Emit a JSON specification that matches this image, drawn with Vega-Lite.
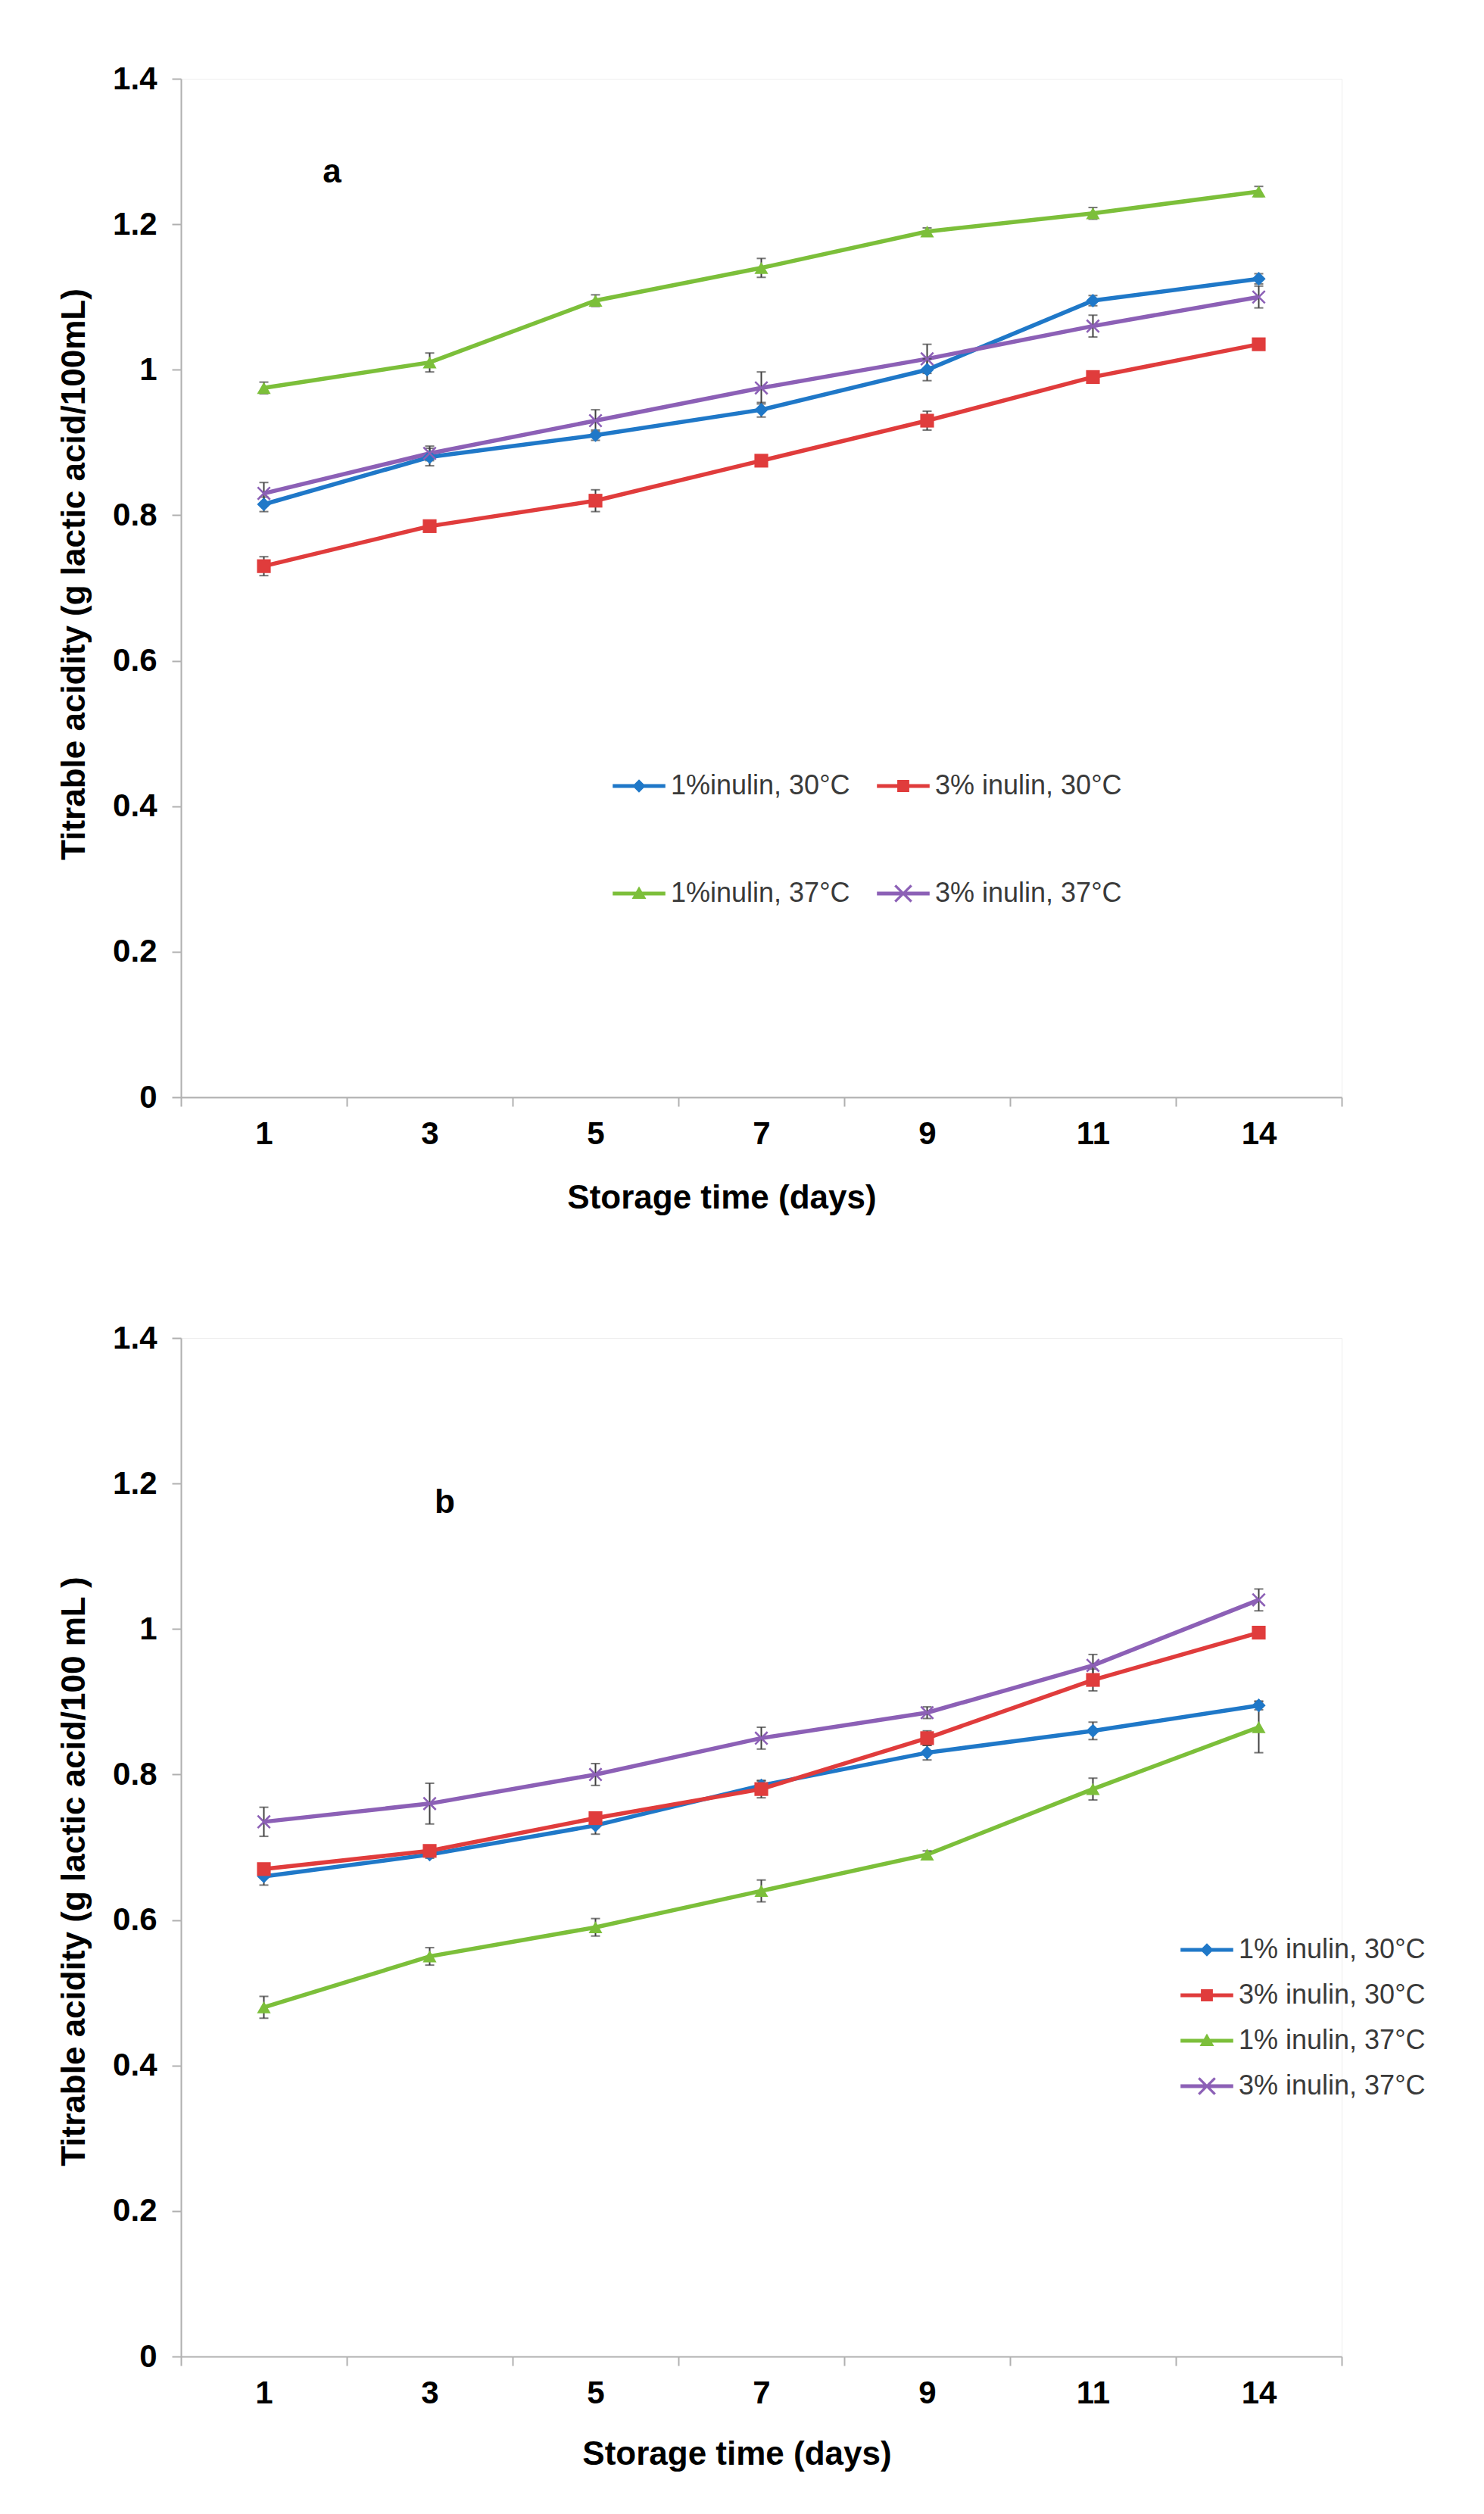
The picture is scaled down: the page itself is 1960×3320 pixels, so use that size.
{
  "$schema": "https://vega.github.io/schema/vega-lite/v6.json",
  "background": "white",
  "padding": {"left": 76, "top": 82, "right": 5, "bottom": 5},
  "autosize": {"type": "pad"},
  "spacing": 140,
  "config": {
    "font": "Liberation Sans",
    "view": {"stroke": "#eeeeee", "strokeWidth": 1},
    "axis": {
      "grid": false,
      "domainColor": "#b0b0b0", "domainWidth": 2,
      "tickColor": "#b0b0b0", "tickWidth": 2, "tickSize": 12,
      "labelFont": "Liberation Sans", "labelFontWeight": "bold", "labelFontSize": 42, "labelColor": "#000000",
      "titleFont": "Liberation Sans", "titleFontWeight": "bold", "titleFontSize": 44, "titleColor": "#000000"
    },
    "legend": {
      "labelFont": "Liberation Sans", "labelFontSize": 36, "labelColor": "#3a3a3a", "labelLimit": 0,
      "symbolSize": 1000, "labelOffset": 24, "symbolOpacity": 1, "symbolStrokeWidth": 0
    }
  },
  "resolve": {"scale": {"color": "independent", "shape": "independent"}},
  "datasets": {
    "d": [
      {"p":"a","n":"1%inulin, 30°C","d":"1","v":0.815,"lo":0.805,"hi":0.825},
      {"p":"a","n":"1%inulin, 30°C","d":"3","v":0.88,"lo":0.868,"hi":0.892},
      {"p":"a","n":"1%inulin, 30°C","d":"5","v":0.91,"lo":0.903,"hi":0.917},
      {"p":"a","n":"1%inulin, 30°C","d":"7","v":0.945,"lo":0.935,"hi":0.955},
      {"p":"a","n":"1%inulin, 30°C","d":"9","v":1.0,"lo":0.985,"hi":1.015},
      {"p":"a","n":"1%inulin, 30°C","d":"11","v":1.095,"lo":1.088,"hi":1.102},
      {"p":"a","n":"1%inulin, 30°C","d":"14","v":1.125,"lo":1.118,"hi":1.132},
      {"p":"a","n":"3% inulin, 30°C","d":"1","v":0.73,"lo":0.717,"hi":0.743},
      {"p":"a","n":"3% inulin, 30°C","d":"3","v":0.785,"lo":0.779,"hi":0.791},
      {"p":"a","n":"3% inulin, 30°C","d":"5","v":0.82,"lo":0.805,"hi":0.835},
      {"p":"a","n":"3% inulin, 30°C","d":"7","v":0.875,"lo":0.869,"hi":0.881},
      {"p":"a","n":"3% inulin, 30°C","d":"9","v":0.93,"lo":0.917,"hi":0.943},
      {"p":"a","n":"3% inulin, 30°C","d":"11","v":0.99,"lo":0.984,"hi":0.996},
      {"p":"a","n":"3% inulin, 30°C","d":"14","v":1.035,"lo":1.029,"hi":1.041},
      {"p":"a","n":"1%inulin, 37°C","d":"1","v":0.975,"lo":0.967,"hi":0.983},
      {"p":"a","n":"1%inulin, 37°C","d":"3","v":1.01,"lo":0.997,"hi":1.023},
      {"p":"a","n":"1%inulin, 37°C","d":"5","v":1.095,"lo":1.087,"hi":1.103},
      {"p":"a","n":"1%inulin, 37°C","d":"7","v":1.14,"lo":1.127,"hi":1.153},
      {"p":"a","n":"1%inulin, 37°C","d":"9","v":1.19,"lo":1.185,"hi":1.195},
      {"p":"a","n":"1%inulin, 37°C","d":"11","v":1.215,"lo":1.207,"hi":1.223},
      {"p":"a","n":"1%inulin, 37°C","d":"14","v":1.245,"lo":1.238,"hi":1.252},
      {"p":"a","n":"3% inulin, 37°C","d":"1","v":0.83,"lo":0.815,"hi":0.845},
      {"p":"a","n":"3% inulin, 37°C","d":"3","v":0.885,"lo":0.875,"hi":0.895},
      {"p":"a","n":"3% inulin, 37°C","d":"5","v":0.93,"lo":0.915,"hi":0.945},
      {"p":"a","n":"3% inulin, 37°C","d":"7","v":0.975,"lo":0.953,"hi":0.997},
      {"p":"a","n":"3% inulin, 37°C","d":"9","v":1.015,"lo":0.995,"hi":1.035},
      {"p":"a","n":"3% inulin, 37°C","d":"11","v":1.06,"lo":1.045,"hi":1.075},
      {"p":"a","n":"3% inulin, 37°C","d":"14","v":1.10,"lo":1.085,"hi":1.115},
      {"p":"b","n":"1% inulin, 30°C","d":"1","v":0.66,"lo":0.648,"hi":0.672},
      {"p":"b","n":"1% inulin, 30°C","d":"3","v":0.69,"lo":0.685,"hi":0.695},
      {"p":"b","n":"1% inulin, 30°C","d":"5","v":0.73,"lo":0.718,"hi":0.742},
      {"p":"b","n":"1% inulin, 30°C","d":"7","v":0.785,"lo":0.779,"hi":0.791},
      {"p":"b","n":"1% inulin, 30°C","d":"9","v":0.83,"lo":0.82,"hi":0.84},
      {"p":"b","n":"1% inulin, 30°C","d":"11","v":0.86,"lo":0.848,"hi":0.872},
      {"p":"b","n":"1% inulin, 30°C","d":"14","v":0.895,"lo":0.889,"hi":0.901},
      {"p":"b","n":"3% inulin, 30°C","d":"1","v":0.67,"lo":0.664,"hi":0.676},
      {"p":"b","n":"3% inulin, 30°C","d":"3","v":0.695,"lo":0.689,"hi":0.701},
      {"p":"b","n":"3% inulin, 30°C","d":"5","v":0.74,"lo":0.734,"hi":0.746},
      {"p":"b","n":"3% inulin, 30°C","d":"7","v":0.78,"lo":0.768,"hi":0.792},
      {"p":"b","n":"3% inulin, 30°C","d":"9","v":0.85,"lo":0.84,"hi":0.86},
      {"p":"b","n":"3% inulin, 30°C","d":"11","v":0.93,"lo":0.915,"hi":0.945},
      {"p":"b","n":"3% inulin, 30°C","d":"14","v":0.995,"lo":0.989,"hi":1.001},
      {"p":"b","n":"1% inulin, 37°C","d":"1","v":0.48,"lo":0.465,"hi":0.495},
      {"p":"b","n":"1% inulin, 37°C","d":"3","v":0.55,"lo":0.538,"hi":0.562},
      {"p":"b","n":"1% inulin, 37°C","d":"5","v":0.59,"lo":0.578,"hi":0.602},
      {"p":"b","n":"1% inulin, 37°C","d":"7","v":0.64,"lo":0.625,"hi":0.655},
      {"p":"b","n":"1% inulin, 37°C","d":"9","v":0.69,"lo":0.685,"hi":0.695},
      {"p":"b","n":"1% inulin, 37°C","d":"11","v":0.78,"lo":0.765,"hi":0.795},
      {"p":"b","n":"1% inulin, 37°C","d":"14","v":0.865,"lo":0.83,"hi":0.9},
      {"p":"b","n":"3% inulin, 37°C","d":"1","v":0.735,"lo":0.715,"hi":0.755},
      {"p":"b","n":"3% inulin, 37°C","d":"3","v":0.76,"lo":0.732,"hi":0.788},
      {"p":"b","n":"3% inulin, 37°C","d":"5","v":0.8,"lo":0.785,"hi":0.815},
      {"p":"b","n":"3% inulin, 37°C","d":"7","v":0.85,"lo":0.835,"hi":0.865},
      {"p":"b","n":"3% inulin, 37°C","d":"9","v":0.885,"lo":0.877,"hi":0.893},
      {"p":"b","n":"3% inulin, 37°C","d":"11","v":0.95,"lo":0.935,"hi":0.965},
      {"p":"b","n":"3% inulin, 37°C","d":"14","v":1.04,"lo":1.025,"hi":1.055}
    ]
  },
  "vconcat": [
    {
      "width": 1533, "height": 1345,
      "data": {"name": "d"},
      "transform": [{"filter": "datum.p == 'a'"}],
      "resolve": {"scale": {"color": "independent", "shape": "independent"}},
      "layer": [
        {
          "mark": {"type": "line", "strokeWidth": 5.5},
          "encoding": {
            "x": {"field": "d", "type": "ordinal", "title": "Storage time (days)", "bandPosition": 0.5, "scale": {"type": "band", "domain": ["1","3","5","7","9","11","14"], "paddingInner": 0, "paddingOuter": 0}, "axis": {"labelAngle": 0, "tickBand": "extent", "labelPadding": 16, "titlePadding": 42, "titleX": 714, "titleAlign": "center"}},
            "y": {"field": "v", "type": "quantitative", "title": "Titrable acidity (g lactic acid/100mL)", "scale": {"domain": [0, 1.4], "nice": false}, "axis": {"values": [0, 0.2, 0.4, 0.6, 0.8, 1, 1.2, 1.4], "format": "~g", "labelPadding": 20, "titlePadding": 28, "titleY": 654}},
            "color": {"field": "n", "type": "nominal", "scale": {"domain": ["1%inulin, 30°C","3% inulin, 30°C","1%inulin, 37°C","3% inulin, 37°C"], "range": ["#1f78c8","#e03c3c","#7cbf3a","#8c60b6"]}, "legend": null}
          }
        },
        {
          "mark": {"type": "rule", "color": "#404040", "strokeWidth": 2},
          "encoding": {
            "x": {"field": "d", "type": "ordinal", "title": "Storage time (days)", "bandPosition": 0.5},
            "y": {"field": "lo", "type": "quantitative", "title": "Titrable acidity (g lactic acid/100mL)"},
            "y2": {"field": "hi"}
          }
        },
        {
          "mark": {"type": "tick", "color": "#404040", "thickness": 2, "size": 12},
          "encoding": {
            "x": {"field": "d", "type": "ordinal", "title": "Storage time (days)", "bandPosition": 0.5},
            "y": {"field": "lo", "type": "quantitative", "title": "Titrable acidity (g lactic acid/100mL)"}
          }
        },
        {
          "mark": {"type": "tick", "color": "#404040", "thickness": 2, "size": 12},
          "encoding": {
            "x": {"field": "d", "type": "ordinal", "title": "Storage time (days)", "bandPosition": 0.5},
            "y": {"field": "hi", "type": "quantitative", "title": "Titrable acidity (g lactic acid/100mL)"}
          }
        },
        {
          "mark": {"type": "point", "filled": true, "opacity": 1, "size": 330},
          "encoding": {
            "x": {"field": "d", "type": "ordinal", "title": "Storage time (days)", "bandPosition": 0.5},
            "y": {"field": "v", "type": "quantitative", "title": "Titrable acidity (g lactic acid/100mL)"},
            "color": {"field": "n", "type": "nominal", "scale": {"domain": ["1%inulin, 30°C","3% inulin, 30°C","1%inulin, 37°C","3% inulin, 37°C"], "range": ["#1f78c8","#e03c3c","#7cbf3a","#8c60b6"]}, "legend": null},
            "shape": {"field": "n", "type": "nominal", "scale": {"domain": ["1%inulin, 30°C","3% inulin, 30°C","1%inulin, 37°C","3% inulin, 37°C"], "range": ["diamond","square","triangle-up","M-1,-0.8L-0.8,-1L0,-0.2L0.8,-1L1,-0.8L0.2,0L1,0.8L0.8,1L0,0.2L-0.8,1L-1,0.8L-0.2,0Z"]}, "legend": null}
          }
        },
        {
          "transform": [{"filter": "datum.d == '1'"}],
          "mark": {"type": "point", "filled": true, "opacity": 0},
          "encoding": {
            "x": {"field": "d", "type": "ordinal", "title": "Storage time (days)", "bandPosition": 0.5},
            "y": {"field": "v", "type": "quantitative", "title": "Titrable acidity (g lactic acid/100mL)"},
            "color": {"field": "n", "type": "nominal", "scale": {"domain": ["1%inulin, 30°C","3% inulin, 30°C","1%inulin, 37°C","3% inulin, 37°C"], "range": ["#1f78c8","#e03c3c","#7cbf3a","#8c60b6"]},
              "legend": {"title": null, "orient": "none", "legendX": 587, "legendY": 916, "columns": 2, "direction": "horizontal", "columnPadding": 35, "rowPadding": 106, "symbolOpacity": 1}},
            "shape": {"field": "n", "type": "nominal", "scale": {"domain": ["1%inulin, 30°C","3% inulin, 30°C","1%inulin, 37°C","3% inulin, 37°C"], "range": [
              "M-2.2,-0.16L2.2,-0.16L2.2,0.16L-2.2,0.16Z M0,-0.55L0.55,0L0,0.55L-0.55,0Z",
              "M-2.2,-0.16L2.2,-0.16L2.2,0.16L-2.2,0.16Z M-0.5,-0.5L0.5,-0.5L0.5,0.5L-0.5,0.5Z",
              "M-2.2,-0.16L2.2,-0.16L2.2,0.16L-2.2,0.16Z M0,-0.6L0.6,0.45L-0.6,0.45Z",
              "M-2.2,-0.16L2.2,-0.16L2.2,0.16L-2.2,0.16Z M-0.75,-0.6L-0.6,-0.75L0,-0.15L0.6,-0.75L0.75,-0.6L0.15,0L0.75,0.6L0.6,0.75L0,0.15L-0.6,0.75L-0.75,0.6L-0.15,0Z"]},
              "legend": {"title": null, "orient": "none", "legendX": 587, "legendY": 916, "columns": 2, "direction": "horizontal", "columnPadding": 35, "rowPadding": 106, "symbolOpacity": 1}}
          }
        },
        {
          "data": {"values": [{"t": "a"}]},
          "mark": {"type": "text", "fontSize": 44, "fontWeight": "bold", "font": "Liberation Sans", "dx": 90, "baseline": "middle", "color": "#000000"},
          "encoding": {
            "x": {"datum": "1", "type": "ordinal", "bandPosition": 0.5},
            "y": {"datum": 1.271, "type": "quantitative"},
            "text": {"field": "t"}
          }
        }
      ]
    },
    {
      "width": 1533, "height": 1345,
      "data": {"name": "d"},
      "transform": [{"filter": "datum.p == 'b'"}],
      "resolve": {"scale": {"color": "independent", "shape": "independent"}},
      "layer": [
        {
          "mark": {"type": "line", "strokeWidth": 5.5},
          "encoding": {
            "x": {"field": "d", "type": "ordinal", "title": "Storage time (days)", "bandPosition": 0.5, "scale": {"type": "band", "domain": ["1","3","5","7","9","11","14"], "paddingInner": 0, "paddingOuter": 0}, "axis": {"labelAngle": 0, "tickBand": "extent", "labelPadding": 16, "titlePadding": 38, "titleX": 734, "titleAlign": "center"}},
            "y": {"field": "v", "type": "quantitative", "title": "Titrable acidity (g lactic acid/100 mL )", "scale": {"domain": [0, 1.4], "nice": false}, "axis": {"values": [0, 0.2, 0.4, 0.6, 0.8, 1, 1.2, 1.4], "format": "~g", "labelPadding": 20, "titlePadding": 28, "titleY": 704}},
            "color": {"field": "n", "type": "nominal", "scale": {"domain": ["1% inulin, 30°C","3% inulin, 30°C","1% inulin, 37°C","3% inulin, 37°C"], "range": ["#1f78c8","#e03c3c","#7cbf3a","#8c60b6"]}, "legend": null}
          }
        },
        {
          "mark": {"type": "rule", "color": "#404040", "strokeWidth": 2},
          "encoding": {
            "x": {"field": "d", "type": "ordinal", "title": "Storage time (days)", "bandPosition": 0.5},
            "y": {"field": "lo", "type": "quantitative", "title": "Titrable acidity (g lactic acid/100 mL )"},
            "y2": {"field": "hi"}
          }
        },
        {
          "mark": {"type": "tick", "color": "#404040", "thickness": 2, "size": 12},
          "encoding": {
            "x": {"field": "d", "type": "ordinal", "title": "Storage time (days)", "bandPosition": 0.5},
            "y": {"field": "lo", "type": "quantitative", "title": "Titrable acidity (g lactic acid/100 mL )"}
          }
        },
        {
          "mark": {"type": "tick", "color": "#404040", "thickness": 2, "size": 12},
          "encoding": {
            "x": {"field": "d", "type": "ordinal", "title": "Storage time (days)", "bandPosition": 0.5},
            "y": {"field": "hi", "type": "quantitative", "title": "Titrable acidity (g lactic acid/100 mL )"}
          }
        },
        {
          "mark": {"type": "point", "filled": true, "opacity": 1, "size": 330},
          "encoding": {
            "x": {"field": "d", "type": "ordinal", "title": "Storage time (days)", "bandPosition": 0.5},
            "y": {"field": "v", "type": "quantitative", "title": "Titrable acidity (g lactic acid/100 mL )"},
            "color": {"field": "n", "type": "nominal", "scale": {"domain": ["1% inulin, 30°C","3% inulin, 30°C","1% inulin, 37°C","3% inulin, 37°C"], "range": ["#1f78c8","#e03c3c","#7cbf3a","#8c60b6"]}, "legend": null},
            "shape": {"field": "n", "type": "nominal", "scale": {"domain": ["1% inulin, 30°C","3% inulin, 30°C","1% inulin, 37°C","3% inulin, 37°C"], "range": ["diamond","square","triangle-up","M-1,-0.8L-0.8,-1L0,-0.2L0.8,-1L1,-0.8L0.2,0L1,0.8L0.8,1L0,0.2L-0.8,1L-1,0.8L-0.2,0Z"]}, "legend": null}
          }
        },
        {
          "transform": [{"filter": "datum.d == '1'"}],
          "mark": {"type": "point", "filled": true, "opacity": 0},
          "encoding": {
            "x": {"field": "d", "type": "ordinal", "title": "Storage time (days)", "bandPosition": 0.5},
            "y": {"field": "v", "type": "quantitative", "title": "Titrable acidity (g lactic acid/100 mL )"},
            "color": {"field": "n", "type": "nominal", "scale": {"domain": ["1% inulin, 30°C","3% inulin, 30°C","1% inulin, 37°C","3% inulin, 37°C"], "range": ["#1f78c8","#e03c3c","#7cbf3a","#8c60b6"]},
              "legend": {"title": null, "orient": "none", "legendX": 1337, "legendY": 790, "columns": 1, "rowPadding": 24, "symbolOpacity": 1}},
            "shape": {"field": "n", "type": "nominal", "scale": {"domain": ["1% inulin, 30°C","3% inulin, 30°C","1% inulin, 37°C","3% inulin, 37°C"], "range": [
              "M-2.2,-0.16L2.2,-0.16L2.2,0.16L-2.2,0.16Z M0,-0.55L0.55,0L0,0.55L-0.55,0Z",
              "M-2.2,-0.16L2.2,-0.16L2.2,0.16L-2.2,0.16Z M-0.5,-0.5L0.5,-0.5L0.5,0.5L-0.5,0.5Z",
              "M-2.2,-0.16L2.2,-0.16L2.2,0.16L-2.2,0.16Z M0,-0.6L0.6,0.45L-0.6,0.45Z",
              "M-2.2,-0.16L2.2,-0.16L2.2,0.16L-2.2,0.16Z M-0.75,-0.6L-0.6,-0.75L0,-0.15L0.6,-0.75L0.75,-0.6L0.15,0L0.75,0.6L0.6,0.75L0,0.15L-0.6,0.75L-0.75,0.6L-0.15,0Z"]},
              "legend": {"title": null, "orient": "none", "legendX": 1337, "legendY": 790, "columns": 1, "rowPadding": 24, "symbolOpacity": 1}}
          }
        },
        {
          "data": {"values": [{"t": "b"}]},
          "mark": {"type": "text", "fontSize": 44, "fontWeight": "bold", "font": "Liberation Sans", "dx": 20, "baseline": "middle", "color": "#000000"},
          "encoding": {
            "x": {"datum": "3", "type": "ordinal", "bandPosition": 0.5},
            "y": {"datum": 1.173, "type": "quantitative"},
            "text": {"field": "t"}
          }
        }
      ]
    }
  ]
}
